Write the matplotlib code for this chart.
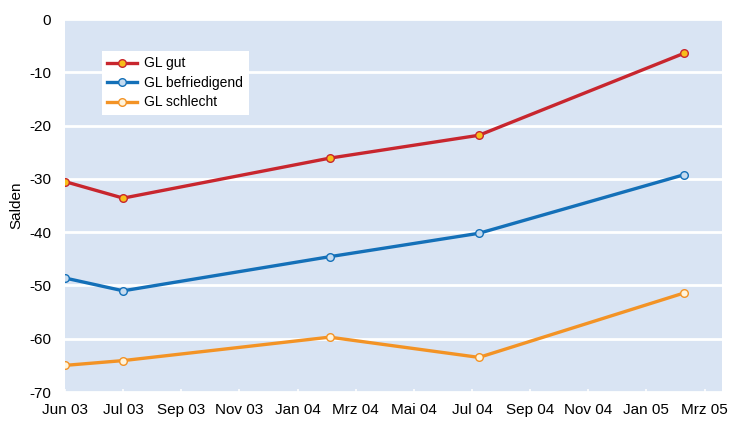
import matplotlib.pyplot as plt

plt.rcParams['font.family'] = ['Liberation Sans', 'DejaVu Sans']

# x positions in tick units (ticks are evenly spaced)
tick_labels = ["Jun 03", "Jul 03", "Sep 03", "Nov 03", "Jan 04", "Mrz 04",
               "Mai 04", "Jul 04", "Sep 04", "Nov 04", "Jan 05", "Mrz 05"]
x_pos = [0, 1, 4.55, 7.12, 10.65]

gl_gut = [-30.5, -33.6, -26.1, -21.8, -6.4]
gl_befriedigend = [-48.6, -51.0, -44.6, -40.2, -29.2]
gl_schlecht = [-65.0, -64.1, -59.7, -63.5, -51.4]

fig = plt.figure(figsize=(7.33, 4.25), dpi=100)
ax = fig.add_axes([0.0887, 0.0776, 0.8963, 0.8774])
ax.set_facecolor("#D9E4F3")

series = [
    (gl_gut, "GL gut", "#C8262E", "#F7BE1A"),
    (gl_befriedigend, "GL befriedigend", "#1470B8", "#C6DBEF"),
    (gl_schlecht, "GL schlecht", "#F39325", "#FFF4DC"),
]
for vals, lab, col, fill in series:
    ax.plot(x_pos, vals, color=col, lw=2.4, marker="o", ms=5.5,
            mfc=fill, mec=col, mew=1, label=lab, zorder=3)

ax.set_xlim(0, 11.3)
ax.set_ylim(-70, 0)
ax.set_xticks(range(len(tick_labels)))
ax.set_xticklabels(tick_labels, fontsize=11)
ax.set_yticks(range(-70, 1, 10))
ax.set_yticklabels([str(v) for v in range(-70, 1, 10)], fontsize=11)
ax.tick_params(axis="y", length=0, pad=10)
ax.tick_params(axis="x", direction="inout", length=4, color="white", width=1.2, pad=6)
ax.grid(axis="y", color="white", lw=2)
ax.set_axisbelow(True)
for s in ax.spines.values():
    s.set_visible(False)
ax.set_ylabel("Salden", fontsize=11, labelpad=4)

leg = ax.legend(loc="upper left", bbox_to_anchor=(0.056, 0.915), fontsize=10,
                frameon=True, fancybox=False, framealpha=1, edgecolor="white",
                handlelength=2.1, handletextpad=0.55, borderpad=0.4,
                labelspacing=0.4, borderaxespad=0)
leg.get_frame().set_linewidth(0)

fig.savefig("out.png", dpi=100)
